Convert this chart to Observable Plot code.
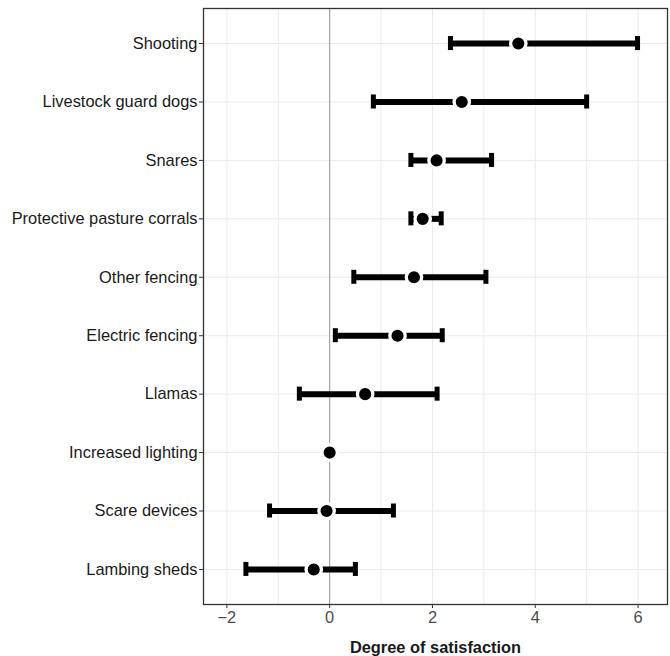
<!DOCTYPE html>
<html>
<head>
<meta charset="utf-8">
<script src="https://cdn.jsdelivr.net/npm/d3@7"></script>
<script src="https://cdn.jsdelivr.net/npm/@observablehq/plot@0.6"></script>
<style>
  html, body { margin: 0; padding: 0; background: #fff; }
  #chart { width: 670px; height: 656px; }
</style>
</head>
<body>
<div id="chart"></div>
<script>
const categories = ["Shooting", "Livestock guard dogs", "Snares", "Protective pasture corrals", "Other fencing", "Electric fencing", "Llamas", "Increased lighting", "Scare devices", "Lambing sheds"];
const means = [3.67, 2.57, 2.08, 1.81, 1.64, 1.32, 0.69, 0.0, -0.06, -0.31];
const lows  = [2.35, 0.85, 1.58, 1.58, 0.47, 0.11, -0.59, null, -1.17, -1.63];
const highs = [5.99, 5.0, 3.15, 2.17, 3.04, 2.19, 2.09, null, 1.24, 0.5];
const xTicks = [-2, 0, 2, 4, 6];
const xMinorTicks = [-1, 1, 3, 5];
const xLabel = "Degree of satisfaction";

const rows = categories.map((c, i) => ({cat: c, mean: means[i], low: lows[i], high: highs[i]}));
const bars = rows.filter(d => d.low != null && d.high != null);

const fmt = d => d < 0 ? "\u2212" + Math.abs(d) : String(d);

const chart = Plot.plot({
  width: 670,
  height: 656,
  marginLeft: 203,
  marginRight: 3,
  marginTop: 8,
  marginBottom: 52,
  style: {fontFamily: "'Liberation Sans', Arial, sans-serif", background: "#fff"},
  x: {domain: [-2.455, 6.573]},
  y: {type: "band", domain: categories, paddingInner: 0.76, paddingOuter: 0.48, round: false},
  marks: [
    Plot.gridX([...xTicks, ...xMinorTicks], {stroke: "#ebebeb", strokeOpacity: 1, strokeWidth: 1}),
    Plot.gridY(categories, {stroke: "#ebebeb", strokeOpacity: 1, strokeWidth: 1}),
    Plot.ruleX([0], {stroke: "#999", strokeWidth: 1}),
    Plot.ruleY(bars, {y: "cat", x1: "low", x2: "high", stroke: "#000", strokeWidth: 6}),
    Plot.tickX(bars, {x: "low", y: "cat", stroke: "#000", strokeWidth: 5}),
    Plot.tickX(bars, {x: "high", y: "cat", stroke: "#000", strokeWidth: 5}),
    Plot.dot(rows, {x: "mean", y: "cat", r: 7.7, fill: "#000", stroke: "#fff", strokeWidth: 3.3}),
    Plot.frame({stroke: "#333", strokeWidth: 1.3}),
    Plot.axisX({ticks: xTicks, tickFormat: fmt, tickSize: 4, tickPadding: 3, fontSize: 16.4, fill: "#4d4d4d", stroke: "#333", label: null}),
    Plot.axisY({tickSize: 4, tickPadding: 2, fontSize: 16.4, fill: "#1a1a1a", stroke: "#333", label: null}),
    Plot.text([xLabel], {frameAnchor: "bottom", lineAnchor: "middle", dy: 43, fontSize: 16.4, fontWeight: "bold", fill: "#1a1a1a"})
  ]
});
document.getElementById("chart").appendChild(chart);
</script>
</body>
</html>
